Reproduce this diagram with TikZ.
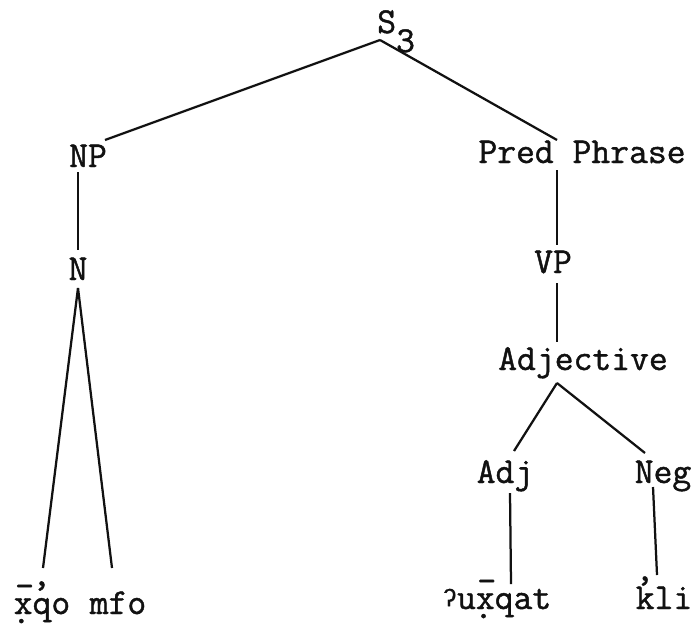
\documentclass[tikz,border=0pt]{standalone}
\usepackage{fontspec}
\newfontfamily\typefont[FakeBold=1.2]{Latin Modern Mono}
\newfontfamily\glotfont[FakeBold=1.2]{Liberation Mono}
\usepackage{xcolor}
\definecolor{cInk}{HTML}{111111}
\usepackage{tikz}
\usetikzlibrary{positioning,calc}
% diacritics typed over the letters
\newcommand\xdm[1]{\ooalign{#1\cr\hidewidth\kern0.08em\raisebox{0.46em}{-}\hidewidth\cr\hidewidth\raisebox{-0.25em}{.}\kern0.1em\hidewidth\cr}}
\newcommand\glot[1]{\ooalign{#1\cr\hidewidth\raisebox{0.78em}{,}\kern0.02em\hidewidth\cr}}
\newcommand\gstop{{\glotfont\fontsize{17}{17}\selectfont\raisebox{0.12em}{ʔ}}}
\tikzset{
  node-cat/.style={anchor=base,inner sep=0pt,text=cInk,
    font=\typefont\fontsize{26}{30}\selectfont},
  node-leaf/.style={node-cat},
  edge/.style={draw=cInk,line width=1.6pt},
}

\begin{document}
\begin{tikzpicture}[x=0.025cm,y=-0.025cm]
  \useasboundingbox (0,0) rectangle (694,626);
  % categories
  \node[node-cat,anchor=base west] (s3) at (377,33) {S\raisebox{-0.52em}{3}};
  \node[node-cat] (np)   at (88,167)  {NP};
  \node[node-cat] (n)    at (78,280)  {N};
  \node[node-cat] (pred) at (582,163) {Pred Phrase};
  \node[node-cat] (vp)   at (553,273) {VP};
  \node[node-cat] (adjective) at (583,370) {Adjective};
  \node[node-cat] (adj)  at (505,483) {Adj};
  \node[node-cat] (neg)  at (663,483) {Neg};
  % words
  \node[node-leaf] (xqo)   at (42,614)  {\xdm{x}\glot{q}o};
  \node[node-leaf] (mfo)   at (118,614) {mfo};
  \node[node-leaf] (uxqat) at (497,609) {\gstop u\xdm{x}qat};
  \node[node-leaf] (kli)   at (664,609) {\glot{k}li};

  % branches
  \draw[edge] ($(s3.base west)+(3,7)$) -- ($(np.base)+(17,-27)$);
  \draw[edge] ($(s3.base west)+(3,7)$) -- ($(pred.base)+(-25,-23)$);
  \draw[edge] ($(np.base)+(-10,5)$) -- ($(n.base)+(0,-30)$);
  \draw[edge] ($(n.base)+(0,8)$) -- ($(xqo.base)+(1,-46)$);
  \draw[edge] ($(n.base)+(0,8)$) -- ($(mfo.base)+(-6,-46)$);
  \draw[edge] ($(pred.base)+(-25,7)$) -- ($(vp.base)+(4,-28)$);
  \draw[edge] ($(vp.base)+(4,10)$) -- ($(adjective.base)+(-26,-28)$);
  \draw[edge] ($(adjective.base)+(-26,13)$) -- ($(adj.base)+(9,-32)$);
  \draw[edge] ($(adjective.base)+(-26,13)$) -- ($(neg.base)+(-18,-30)$);
  \draw[edge] ($(adj.base)+(5,10)$) -- ($(uxqat.base)+(14,-25)$);
  \draw[edge] ($(neg.base)+(-10,4)$) -- ($(kli.base)+(-7,-34)$);
\end{tikzpicture}
\end{document}
